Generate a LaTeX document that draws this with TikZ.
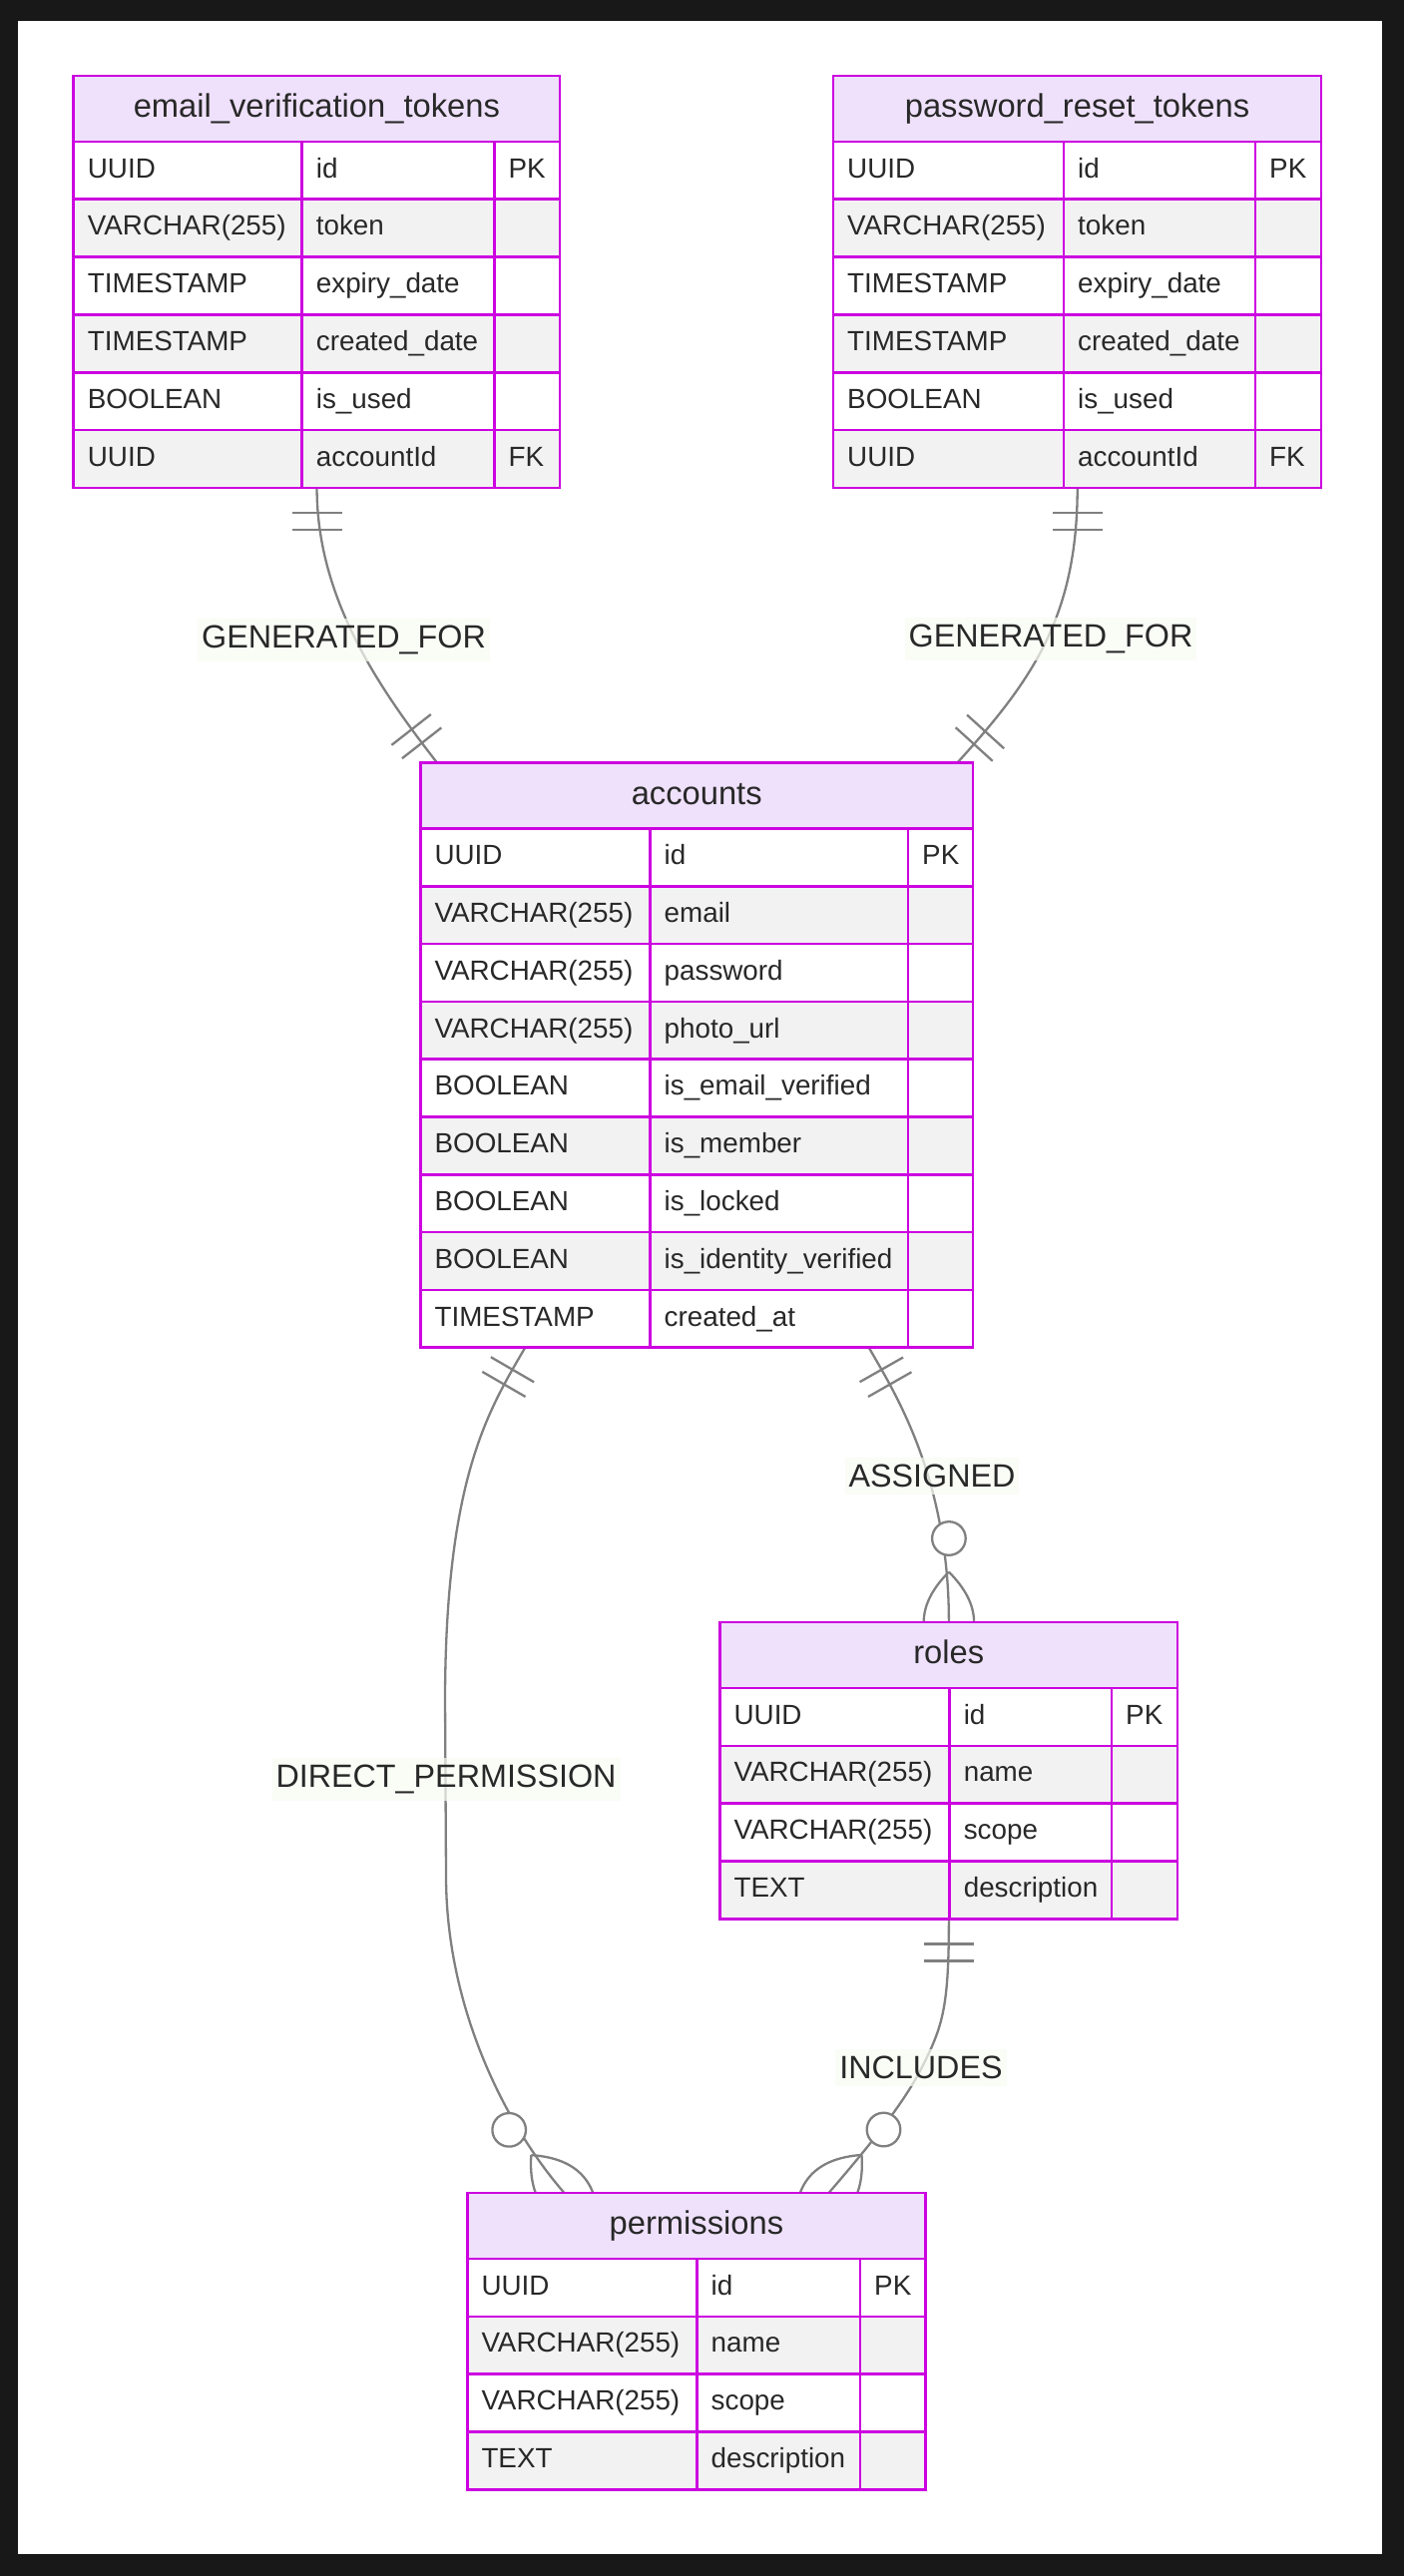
\documentclass[tikz,border=0pt]{standalone}
\usepackage{fontspec}
\setmainfont{Liberation Sans}
\usetikzlibrary{calc}
\definecolor{framec}{RGB}{24,24,24}
\definecolor{bordc}{RGB}{204,0,224}
\definecolor{hdr}{RGB}{239,225,251}
\definecolor{rowg}{RGB}{242,242,242}
\definecolor{conng}{RGB}{128,128,128}
\definecolor{txt}{RGB}{40,40,40}
\definecolor{lblbg}{RGB}{249,251,243}
\pgfdeclarelayer{bg}
\pgfdeclarelayer{edges}
\pgfsetlayers{bg,edges,main}
\tikzset{
  conn/.style={draw=conng, line width=2.3pt},
  cellline/.style={draw=bordc, line width=2.6pt},
  celltxt/.style={anchor=base west, inner sep=0pt, text=txt, font=\fontsize{27.8}{33}\selectfont},
  titletxt/.style={anchor=base, inner sep=0pt, text=txt, font=\fontsize{32.7}{38}\selectfont},
  rel/.style={anchor=base, fill=lblbg, fill opacity=0.7, text opacity=1, text=txt, inner xsep=4pt, inner ysep=7pt, font=\fontsize{32.3}{38}\selectfont},
}
% #1 id, #2 xL, #3 xC1, #4 xC2, #5 xR, #6 yT, #7 nrows, #8 title, #9 rows
\newcommand\ertable[9]{%
  \pgfmathsetmacro\hb{#6+66}%
  \pgfmathsetmacro\yB{#6+66+#7*57.8}%
  \pgfmathsetmacro\tw{#5-#2}%
  \pgfmathsetmacro\th{\yB-#6}%
  \node[inner sep=0pt, minimum width=\tw pt, minimum height=\th pt, anchor=north west] (#1) at (#2,#6) {};
  \fill[hdr] (#2,#6) rectangle (#5,\hb);
  \node[titletxt] (#1-title) at ({(#2+#5)/2},{#6+33+8.5}) {#8};
  \foreach \ty/\nm/\ky [count=\i] in {#9} {
    \pgfmathsetmacro\ya{\hb+(\i-1)*57.8}
    \pgfmathsetmacro\yb{\ya+57.8}
    \pgfmathsetmacro\ym{\ya+28.9+7.2}
    \ifodd\i \def\rf{white}\else \def\rf{rowg}\fi
    \fill[\rf] (#2,\ya) rectangle (#5,\yb);
    \node[celltxt] (#1-t\i) at (#2+14,\ym) {\ty};
    \node[celltxt] (#1-n\i) at (#3+14,\ym) {\nm};
    \edef\tmpk{\ky}%
    \ifx\tmpk\empty\else
      \node[celltxt] (#1-k\i) at (#4+14,\ym) {\ky};
    \fi
  }
  \draw[cellline] (#2,#6) rectangle (#5,\yB);
  \draw[cellline] (#2,\hb) -- (#5,\hb);
  \pgfmathtruncatemacro\nmo{#7-1}%
  \foreach \j in {1,...,\nmo} {
    \draw[cellline] (#2,{\hb+\j*57.8}) -- (#5,{\hb+\j*57.8});
  }
  \draw[cellline] (#3,\hb) -- (#3,\yB) (#4,\hb) -- (#4,\yB);
}
\newcommand\oneMark[2]{%
  \begin{scope}[shift={(#1)}, rotate=#2]
    \draw[conn] (25,-25) -- (25,25) (42,-25) -- (42,25);
  \end{scope}}
\newcommand\manyMark[2]{%
  \begin{scope}[shift={(#1)}, rotate=#2]
    \draw[conn] (-50.4,0) .. controls (-16.8,-33.6) and (16.8,-33.6) .. (50.4,0) .. controls (16.8,33.6) and (-16.8,33.6) .. (-50.4,0);
    \draw[conn, fill=white] (-84,0) circle[radius=16.8pt];
  \end{scope}}
\begin{document}
\begin{tikzpicture}[x=1pt,y=-1pt]
\useasboundingbox (0,0) rectangle (1407,2582);
\begin{pgfonlayer}{bg}
  \fill[framec] (0,0) rectangle (1407,2582);
  \fill[white] (18,21) rectangle (1385,2560);
\end{pgfonlayer}

% tables
\ertable{evt}{73.7}{302.7}{495.5}{561}{76}{6}{email\_verification\_tokens}{UUID/id/PK, VARCHAR(255)/token/{}, TIMESTAMP/expiry\_date/{}, TIMESTAMP/created\_date/{}, BOOLEAN/is\_used/{}, UUID/accountId/FK}
\ertable{prt}{835}{1066}{1258}{1324}{76}{6}{password\_reset\_tokens}{UUID/id/PK, VARCHAR(255)/token/{}, TIMESTAMP/expiry\_date/{}, TIMESTAMP/created\_date/{}, BOOLEAN/is\_used/{}, UUID/accountId/FK}
\ertable{acc}{421.4}{651.5}{910}{975}{764.5}{9}{accounts}{UUID/id/PK, VARCHAR(255)/email/{}, VARCHAR(255)/password/{}, VARCHAR(255)/photo\_url/{}, BOOLEAN/is\_email\_verified/{}, BOOLEAN/is\_member/{}, BOOLEAN/is\_locked/{}, BOOLEAN/is\_identity\_verified/{}, TIMESTAMP/created\_at/{}}
\ertable{rol}{721.4}{951.6}{1114}{1180}{1626}{4}{roles}{UUID/id/PK, VARCHAR(255)/name/{}, VARCHAR(255)/scope/{}, TEXT/description/{}}
\ertable{per}{468.3}{698.5}{862}{927.5}{2198}{4}{permissions}{UUID/id/PK, VARCHAR(255)/name/{}, VARCHAR(255)/scope/{}, TEXT/description/{}}

% connector end points
\coordinate (e1s) at (evt.south);
\coordinate (e1e) at ($(acc.north west)+(16.6,0)$);
\coordinate (e2s) at (prt.south);
\coordinate (e2e) at ($(acc.north east)+(-16,0)$);
\coordinate (e3s) at ($(acc.south west)+(104.6,0)$);
\coordinate (e3a) at (446,1700);
\coordinate (e3b) at (447,1880);
\coordinate (e3e) at ($(per.north west)+(97.2,0)$);
\coordinate (e4s) at ($(acc.south west)+(449.6,0)$);
\coordinate (e4e) at (rol.north);
\coordinate (e5s) at (rol.south);
\coordinate (e5a) at (925,2070);
\coordinate (e5e) at ($(per.north west)+(362.2,0)$);

\begin{pgfonlayer}{edges}
  \draw[conn] (e1s) .. controls +(0,110.5) and +(-58,-74.5) .. (e1e);
  \draw[conn] (e2s) .. controls +(0,130.5) and +(73,-80.5) .. (e2e);
  \draw[conn] (e3s) .. controls +(-36,62) and +(1,-220) .. (e3a) -- (e3b)
              .. controls +(0,140) and +(-52.5,-60) .. (e3e);
  \draw[conn] (e4s) .. controls +(25,44) and +(0,-146) .. (e4e);
  \draw[conn] (e5s) .. controls +(0,87) and +(20,-40) .. (e5a)
              .. controls +(-15,30) and +(54.5,-63) .. (e5e);
  \oneMark{e1s}{-90}
  \oneMark{e1e}{128}
  \oneMark{e2s}{-90}
  \oneMark{e2e}{47.8}
  \oneMark{e3s}{-120.1}
  \manyMark{e3e}{-48.8}
  \oneMark{e4s}{-60.4}
  \manyMark{e4e}{-90}
  \oneMark{e5s}{-90}
  \manyMark{e5e}{-130.9}
  \node[rel] (l1) at (344.5,649.6) {GENERATED\_FOR};
  \node[rel] (l2) at (1053,648.6) {GENERATED\_FOR};
  \node[rel] (l3) at (934,1490.3) {ASSIGNED};
  \node[rel] (l4) at (447,1791.6) {DIRECT\_PERMISSION};
  \node[rel] (l5) at (923,2083.3) {INCLUDES};
\end{pgfonlayer}
\end{tikzpicture}
\end{document}
